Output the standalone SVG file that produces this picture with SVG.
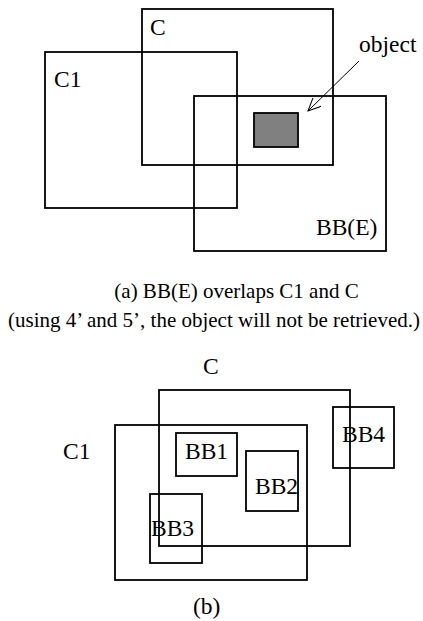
<svg xmlns="http://www.w3.org/2000/svg" width="423" height="621" viewBox="0 0 423 621">
<style>
rect.b{fill:none;stroke:#000;stroke-width:1.8}
text{font-family:"Liberation Serif","Times New Roman",serif;font-size:23.5px;fill:#000}
text.cap{font-size:21px}
</style>
<defs>
<marker id="ah" markerWidth="14" markerHeight="12" refX="13" refY="6" orient="auto" markerUnits="userSpaceOnUse">
<path d="M0,0 L13,6 L0,12" fill="none" stroke="#000" stroke-width="1"/>
</marker>
</defs>
<rect width="423" height="621" fill="#fff"/>
<g id="partA">
<g id="C-a"><rect class="b" x="142" y="9" width="191" height="156"/><text x="150" y="35">C</text></g>
<g id="C1-a"><rect class="b" x="45" y="52" width="192" height="156"/><text x="54" y="87">C1</text></g>
<g id="BBE"><rect class="b" x="194" y="96" width="192" height="155"/><text x="316" y="235">BB(E)</text></g>
<g id="object"><rect x="254" y="113" width="44" height="34" fill="#808080" stroke="#000" stroke-width="1.8"/></g>
<g id="object-label"><text x="359" y="52">object</text></g>
<text class="cap" x="236.5" y="298" text-anchor="middle">(a) BB(E) overlaps C1 and C</text>
<text class="cap" x="214" y="327" text-anchor="middle">(using 4’ and 5’, the object will not be retrieved.)</text>
</g>
<g id="connectors">
<line x1="359" y1="61" x2="308" y2="111" stroke="#000" stroke-width="1" marker-end="url(#ah)"/>
</g>
<g id="partB">
<g id="C-b"><rect class="b" x="159" y="390" width="191" height="156"/><text x="203" y="374">C</text></g>
<g id="C1-b"><rect class="b" x="115" y="425" width="192" height="155"/><text x="63" y="459">C1</text></g>
<g id="BB1"><rect class="b" x="176" y="433" width="61" height="43"/><text x="185" y="459">BB1</text></g>
<g id="BB2"><rect class="b" x="246" y="451" width="52" height="60"/><text x="255" y="494">BB2</text></g>
<g id="BB3"><rect class="b" x="150" y="494" width="52" height="69"/><text x="151" y="536">BB3</text></g>
<g id="BB4"><rect class="b" x="333" y="407" width="61" height="61"/><text x="342" y="442">BB4</text></g>
<text x="193" y="614">(b)</text>
</g>
</svg>
